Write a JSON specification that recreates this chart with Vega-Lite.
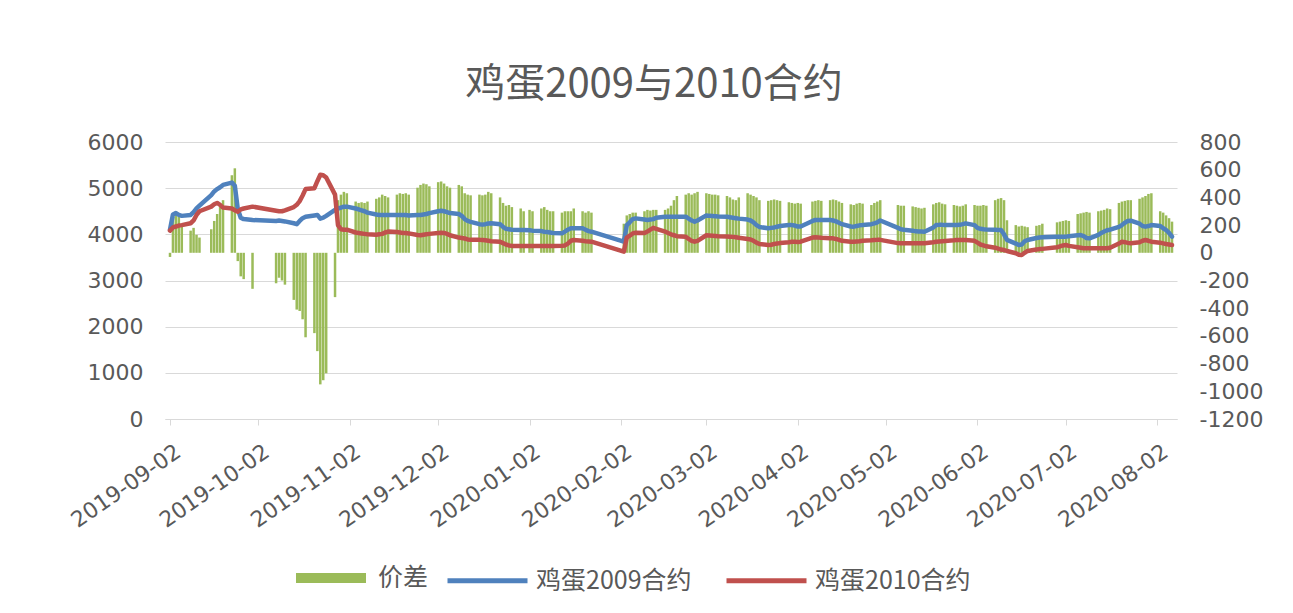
{
  "$schema": "https://vega.github.io/schema/vega-lite/v6.json",
  "width": 1012,
  "height": 277,
  "autosize": {"type": "none"},
  "padding": {"left": 165, "top": 142, "right": 116, "bottom": 194},
  "background": "white",
  "title": {"text": "鸡蛋2009与2010合约", "font": "Noto Sans CJK SC", "fontSize": 40, "fontWeight": "normal", "color": "#595959", "anchor": "middle", "dx": -17, "offset": 26},
  "config": {"view": {"stroke": null}, "font": "DejaVu Sans"},
  "data": {"values": [
{"d":"2019-09-02","s":-30,"a":4100,"b":4080},
{"d":"2019-09-03","s":280,"a":4430,"b":4150},
{"d":"2019-09-04","s":300,"a":4460,"b":4170},
{"d":"2019-09-05","s":260,"a":4420,"b":4190},
{"d":"2019-09-06","s":210,"a":4400,"b":4200},
{"d":"2019-09-09","s":160,"a":4420,"b":4240},
{"d":"2019-09-10","s":180,"a":4480,"b":4300},
{"d":"2019-09-11","s":130,"a":4560,"b":4420},
{"d":"2019-09-12","s":110,"a":4620,"b":4500},
{"d":"2019-09-16","s":170,"a":4850,"b":4600},
{"d":"2019-09-17","s":230,"a":4930,"b":4650},
{"d":"2019-09-18","s":280,"a":4980,"b":4680},
{"d":"2019-09-19","s":330,"a":5020,"b":4640},
{"d":"2019-09-20","s":380,"a":5070,"b":4580},
{"d":"2019-09-23","s":560,"a":5120,"b":4560},
{"d":"2019-09-24","s":610,"a":5050,"b":4520},
{"d":"2019-09-25","s":-60,"a":4550,"b":4490},
{"d":"2019-09-26","s":-170,"a":4360,"b":4540},
{"d":"2019-09-27","s":-190,"a":4330,"b":4560},
{"d":"2019-09-30","s":-260,"a":4310,"b":4600},
{"d":"2019-10-08","s":-220,"a":4290,"b":4510},
{"d":"2019-10-09","s":-180,"a":4300,"b":4500},
{"d":"2019-10-10","s":-200,"a":4290,"b":4500},
{"d":"2019-10-11","s":-230,"a":4280,"b":4520},
{"d":"2019-10-14","s":-340,"a":4240,"b":4590},
{"d":"2019-10-15","s":-410,"a":4220,"b":4640},
{"d":"2019-10-16","s":-420,"a":4290,"b":4720},
{"d":"2019-10-17","s":-480,"a":4350,"b":4840},
{"d":"2019-10-18","s":-610,"a":4380,"b":4980},
{"d":"2019-10-21","s":-580,"a":4410,"b":5000},
{"d":"2019-10-22","s":-710,"a":4420,"b":5150},
{"d":"2019-10-23","s":-950,"a":4340,"b":5290},
{"d":"2019-10-24","s":-920,"a":4360,"b":5280},
{"d":"2019-10-25","s":-870,"a":4400,"b":5230},
{"d":"2019-10-28","s":-320,"a":4530,"b":4860},
{"d":"2019-10-29","s":380,"a":4560,"b":4200},
{"d":"2019-10-30","s":420,"a":4580,"b":4110},
{"d":"2019-10-31","s":440,"a":4600,"b":4100},
{"d":"2019-11-01","s":430,"a":4600,"b":4100},
{"d":"2019-11-04","s":370,"a":4560,"b":4040},
{"d":"2019-11-05","s":360,"a":4540,"b":4030},
{"d":"2019-11-06","s":365,"a":4520,"b":4020},
{"d":"2019-11-07","s":360,"a":4500,"b":4010},
{"d":"2019-11-08","s":370,"a":4470,"b":4000},
{"d":"2019-11-11","s":390,"a":4430,"b":3990},
{"d":"2019-11-12","s":400,"a":4420,"b":4000},
{"d":"2019-11-13","s":420,"a":4420,"b":4010},
{"d":"2019-11-14","s":410,"a":4420,"b":4040},
{"d":"2019-11-15","s":400,"a":4420,"b":4060},
{"d":"2019-11-18","s":420,"a":4420,"b":4050},
{"d":"2019-11-19","s":430,"a":4420,"b":4040},
{"d":"2019-11-20","s":425,"a":4420,"b":4030},
{"d":"2019-11-21","s":430,"a":4420,"b":4030},
{"d":"2019-11-22","s":420,"a":4410,"b":4020},
{"d":"2019-11-25","s":470,"a":4420,"b":3985},
{"d":"2019-11-26","s":490,"a":4420,"b":3980},
{"d":"2019-11-27","s":500,"a":4430,"b":3990},
{"d":"2019-11-28","s":495,"a":4440,"b":4000},
{"d":"2019-11-29","s":480,"a":4460,"b":4010},
{"d":"2019-12-02","s":510,"a":4500,"b":4030},
{"d":"2019-12-03","s":515,"a":4510,"b":4035},
{"d":"2019-12-04","s":500,"a":4500,"b":4030},
{"d":"2019-12-05","s":480,"a":4480,"b":4010},
{"d":"2019-12-06","s":470,"a":4460,"b":3980},
{"d":"2019-12-09","s":490,"a":4440,"b":3930},
{"d":"2019-12-10","s":480,"a":4400,"b":3920},
{"d":"2019-12-11","s":430,"a":4330,"b":3910},
{"d":"2019-12-12","s":420,"a":4290,"b":3890},
{"d":"2019-12-13","s":415,"a":4270,"b":3880},
{"d":"2019-12-16","s":420,"a":4220,"b":3880},
{"d":"2019-12-17","s":415,"a":4210,"b":3875},
{"d":"2019-12-18","s":420,"a":4220,"b":3870},
{"d":"2019-12-19","s":440,"a":4235,"b":3860},
{"d":"2019-12-20","s":430,"a":4240,"b":3850},
{"d":"2019-12-23","s":400,"a":4220,"b":3840},
{"d":"2019-12-24","s":360,"a":4160,"b":3810},
{"d":"2019-12-25","s":340,"a":4120,"b":3780},
{"d":"2019-12-26","s":345,"a":4110,"b":3760},
{"d":"2019-12-27","s":330,"a":4100,"b":3750},
{"d":"2019-12-30","s":320,"a":4095,"b":3750},
{"d":"2019-12-31","s":300,"a":4095,"b":3750},
{"d":"2020-01-02","s":310,"a":4090,"b":3750},
{"d":"2020-01-03","s":300,"a":4080,"b":3748},
{"d":"2020-01-06","s":320,"a":4070,"b":3747},
{"d":"2020-01-07","s":330,"a":4057,"b":3747},
{"d":"2020-01-08","s":310,"a":4050,"b":3745},
{"d":"2020-01-09","s":300,"a":4040,"b":3745},
{"d":"2020-01-10","s":300,"a":4030,"b":3747},
{"d":"2020-01-13","s":290,"a":4022,"b":3750},
{"d":"2020-01-14","s":300,"a":4060,"b":3760},
{"d":"2020-01-15","s":300,"a":4100,"b":3800},
{"d":"2020-01-16","s":300,"a":4130,"b":3860},
{"d":"2020-01-17","s":320,"a":4130,"b":3877},
{"d":"2020-01-20","s":300,"a":4130,"b":3860},
{"d":"2020-01-21","s":290,"a":4100,"b":3850},
{"d":"2020-01-22","s":300,"a":4070,"b":3845},
{"d":"2020-01-23","s":290,"a":4057,"b":3840},
{"d":"2020-02-03","s":210,"a":3840,"b":3624},
{"d":"2020-02-04","s":270,"a":4200,"b":3930},
{"d":"2020-02-05","s":280,"a":4260,"b":3970},
{"d":"2020-02-06","s":290,"a":4330,"b":4020},
{"d":"2020-02-07","s":290,"a":4346,"b":4035},
{"d":"2020-02-10","s":300,"a":4320,"b":4030},
{"d":"2020-02-11","s":310,"a":4310,"b":4060},
{"d":"2020-02-12","s":305,"a":4320,"b":4100},
{"d":"2020-02-13","s":310,"a":4330,"b":4140},
{"d":"2020-02-14","s":310,"a":4360,"b":4120},
{"d":"2020-02-17","s":310,"a":4382,"b":4060},
{"d":"2020-02-18","s":320,"a":4382,"b":4030},
{"d":"2020-02-19","s":340,"a":4382,"b":4000},
{"d":"2020-02-20","s":380,"a":4382,"b":3980},
{"d":"2020-02-21","s":410,"a":4382,"b":3960},
{"d":"2020-02-24","s":420,"a":4382,"b":3949},
{"d":"2020-02-25","s":430,"a":4340,"b":3900},
{"d":"2020-02-26","s":420,"a":4300,"b":3860},
{"d":"2020-02-27","s":430,"a":4274,"b":3840},
{"d":"2020-02-28","s":440,"a":4300,"b":3860},
{"d":"2020-03-02","s":430,"a":4410,"b":3980},
{"d":"2020-03-03","s":425,"a":4400,"b":3975},
{"d":"2020-03-04","s":420,"a":4395,"b":3970},
{"d":"2020-03-05","s":420,"a":4390,"b":3965},
{"d":"2020-03-06","s":415,"a":4385,"b":3960},
{"d":"2020-03-09","s":410,"a":4380,"b":3955},
{"d":"2020-03-10","s":400,"a":4370,"b":3950},
{"d":"2020-03-11","s":385,"a":4360,"b":3945},
{"d":"2020-03-12","s":380,"a":4350,"b":3935},
{"d":"2020-03-13","s":400,"a":4340,"b":3925},
{"d":"2020-03-16","s":430,"a":4320,"b":3900},
{"d":"2020-03-17","s":420,"a":4300,"b":3890},
{"d":"2020-03-18","s":410,"a":4260,"b":3860},
{"d":"2020-03-19","s":400,"a":4200,"b":3820},
{"d":"2020-03-20","s":380,"a":4160,"b":3790},
{"d":"2020-03-23","s":375,"a":4130,"b":3769},
{"d":"2020-03-24","s":380,"a":4140,"b":3775},
{"d":"2020-03-25","s":385,"a":4150,"b":3790},
{"d":"2020-03-26","s":380,"a":4165,"b":3800},
{"d":"2020-03-27","s":375,"a":4180,"b":3810},
{"d":"2020-03-30","s":365,"a":4200,"b":3830},
{"d":"2020-03-31","s":360,"a":4200,"b":3840},
{"d":"2020-04-01","s":355,"a":4190,"b":3840},
{"d":"2020-04-02","s":360,"a":4170,"b":3835},
{"d":"2020-04-03","s":355,"a":4170,"b":3840},
{"d":"2020-04-07","s":370,"a":4290,"b":3930},
{"d":"2020-04-08","s":375,"a":4310,"b":3935},
{"d":"2020-04-09","s":380,"a":4310,"b":3930},
{"d":"2020-04-10","s":375,"a":4310,"b":3925},
{"d":"2020-04-13","s":380,"a":4310,"b":3915},
{"d":"2020-04-14","s":385,"a":4300,"b":3913},
{"d":"2020-04-15","s":380,"a":4280,"b":3900},
{"d":"2020-04-16","s":370,"a":4250,"b":3880},
{"d":"2020-04-17","s":360,"a":4220,"b":3860},
{"d":"2020-04-20","s":350,"a":4170,"b":3840},
{"d":"2020-04-21","s":345,"a":4166,"b":3840},
{"d":"2020-04-22","s":355,"a":4180,"b":3845},
{"d":"2020-04-23","s":360,"a":4195,"b":3850},
{"d":"2020-04-24","s":355,"a":4200,"b":3860},
{"d":"2020-04-27","s":345,"a":4220,"b":3870},
{"d":"2020-04-28","s":360,"a":4238,"b":3877},
{"d":"2020-04-29","s":370,"a":4260,"b":3880},
{"d":"2020-04-30","s":380,"a":4300,"b":3880},
{"d":"2020-05-06","s":345,"a":4140,"b":3810},
{"d":"2020-05-07","s":340,"a":4110,"b":3805},
{"d":"2020-05-08","s":340,"a":4100,"b":3805},
{"d":"2020-05-11","s":335,"a":4080,"b":3805},
{"d":"2020-05-12","s":330,"a":4065,"b":3805},
{"d":"2020-05-13","s":325,"a":4060,"b":3805},
{"d":"2020-05-14","s":320,"a":4060,"b":3805},
{"d":"2020-05-15","s":325,"a":4057,"b":3805},
{"d":"2020-05-18","s":350,"a":4150,"b":3830},
{"d":"2020-05-19","s":360,"a":4200,"b":3840},
{"d":"2020-05-20","s":365,"a":4205,"b":3845},
{"d":"2020-05-21","s":355,"a":4205,"b":3850},
{"d":"2020-05-22","s":350,"a":4200,"b":3855},
{"d":"2020-05-25","s":345,"a":4202,"b":3870},
{"d":"2020-05-26","s":340,"a":4202,"b":3877},
{"d":"2020-05-27","s":335,"a":4205,"b":3877},
{"d":"2020-05-28","s":340,"a":4220,"b":3877},
{"d":"2020-05-29","s":350,"a":4238,"b":3877},
{"d":"2020-06-01","s":345,"a":4200,"b":3860},
{"d":"2020-06-02","s":340,"a":4140,"b":3820},
{"d":"2020-06-03","s":340,"a":4120,"b":3780},
{"d":"2020-06-04","s":345,"a":4110,"b":3760},
{"d":"2020-06-05","s":340,"a":4105,"b":3740},
{"d":"2020-06-08","s":380,"a":4100,"b":3710},
{"d":"2020-06-09","s":390,"a":4095,"b":3690},
{"d":"2020-06-10","s":395,"a":4094,"b":3670},
{"d":"2020-06-11","s":380,"a":4000,"b":3660},
{"d":"2020-06-12","s":235,"a":3880,"b":3640},
{"d":"2020-06-15","s":200,"a":3800,"b":3590},
{"d":"2020-06-16","s":190,"a":3770,"b":3560},
{"d":"2020-06-17","s":195,"a":3780,"b":3552},
{"d":"2020-06-18","s":190,"a":3850,"b":3600},
{"d":"2020-06-19","s":185,"a":3877,"b":3640},
{"d":"2020-06-22","s":195,"a":3920,"b":3670},
{"d":"2020-06-23","s":200,"a":3930,"b":3680},
{"d":"2020-06-24","s":210,"a":3935,"b":3685},
{"d":"2020-06-29","s":220,"a":3945,"b":3720},
{"d":"2020-06-30","s":225,"a":3948,"b":3740},
{"d":"2020-07-01","s":230,"a":3949,"b":3760},
{"d":"2020-07-02","s":235,"a":3950,"b":3769},
{"d":"2020-07-03","s":230,"a":3960,"b":3750},
{"d":"2020-07-06","s":280,"a":3980,"b":3720},
{"d":"2020-07-07","s":285,"a":3985,"b":3710},
{"d":"2020-07-08","s":290,"a":3960,"b":3700},
{"d":"2020-07-09","s":295,"a":3920,"b":3697},
{"d":"2020-07-10","s":290,"a":3913,"b":3697},
{"d":"2020-07-13","s":300,"a":3990,"b":3697},
{"d":"2020-07-14","s":305,"a":4030,"b":3697},
{"d":"2020-07-15","s":310,"a":4060,"b":3697},
{"d":"2020-07-16","s":320,"a":4090,"b":3697},
{"d":"2020-07-17","s":315,"a":4100,"b":3710},
{"d":"2020-07-20","s":360,"a":4160,"b":3800},
{"d":"2020-07-21","s":370,"a":4202,"b":3840},
{"d":"2020-07-22","s":375,"a":4250,"b":3830},
{"d":"2020-07-23","s":380,"a":4290,"b":3815},
{"d":"2020-07-24","s":380,"a":4296,"b":3805},
{"d":"2020-07-27","s":390,"a":4230,"b":3830},
{"d":"2020-07-28","s":400,"a":4180,"b":3860},
{"d":"2020-07-29","s":410,"a":4166,"b":3877},
{"d":"2020-07-30","s":425,"a":4180,"b":3860},
{"d":"2020-07-31","s":430,"a":4202,"b":3840},
{"d":"2020-08-03","s":300,"a":4180,"b":3820},
{"d":"2020-08-04","s":290,"a":4130,"b":3805},
{"d":"2020-08-05","s":270,"a":4094,"b":3790},
{"d":"2020-08-06","s":250,"a":4030,"b":3780},
{"d":"2020-08-07","s":225,"a":3949,"b":3769}
  ]},
  "layer": [
    {
      "mark": {"type": "bar", "width": 2.5},
      "encoding": {
        "x": {"field": "d", "type": "temporal",
          "scale": {"type": "utc", "domain": [{"year": 2019, "month": 9, "date": 2, "utc": true}, {"year": 2020, "month": 8, "date": 7, "utc": true}]},
          "axis": {"title": null, "format": "%Y-%m-%d", "labelAngle": -35, "labelAlign": "right", "labelBaseline": "middle", "labelPadding": 24, "labelOffset": 8, "labelFontSize": 22, "labelColor": "#595959", "domainColor": "#D9D9D9", "tickColor": "#D9D9D9", "tickSize": 6, "grid": false, "labelOverlap": false,
            "values": [
              {"year": 2019, "month": 9, "date": 2, "utc": true},
              {"year": 2019, "month": 10, "date": 2, "utc": true},
              {"year": 2019, "month": 11, "date": 2, "utc": true},
              {"year": 2019, "month": 12, "date": 2, "utc": true},
              {"year": 2020, "month": 1, "date": 2, "utc": true},
              {"year": 2020, "month": 2, "date": 2, "utc": true},
              {"year": 2020, "month": 3, "date": 2, "utc": true},
              {"year": 2020, "month": 4, "date": 2, "utc": true},
              {"year": 2020, "month": 5, "date": 2, "utc": true},
              {"year": 2020, "month": 6, "date": 2, "utc": true},
              {"year": 2020, "month": 7, "date": 2, "utc": true},
              {"year": 2020, "month": 8, "date": 2, "utc": true}
            ]}},
        "y": {"field": "s", "type": "quantitative",
          "scale": {"domain": [-1200, 800], "nice": false, "zero": false},
          "axis": {"orient": "right", "title": null, "grid": false, "domain": false, "ticks": false, "labelFontSize": 22, "labelColor": "#595959", "labelPadding": 22, "labelExpr": "'' + datum.value",
            "values": [-1200, -1000, -800, -600, -400, -200, 0, 200, 400, 600, 800]}},
        "fill": {"datum": "价差", "scale": {"range": ["#9BBB59"]},
          "legend": {"orient": "none", "legendX": 131, "legendY": 401, "title": null, "symbolType": "M-1,-0.14H1V0.14H-1Z", "symbolSize": 4900, "symbolStrokeWidth": 0, "labelFont": "Noto Sans CJK SC", "labelFontSize": 25, "labelColor": "#595959", "labelOffset": 12}}
      }
    },
    {
      "transform": [{"fold": ["a", "b"], "as": ["series", "value"]}],
      "mark": {"type": "line", "strokeWidth": 4.5, "strokeJoin": "round", "strokeCap": "round"},
      "encoding": {
        "x": {"field": "d", "type": "temporal"},
        "y": {"field": "value", "type": "quantitative",
          "scale": {"domain": [0, 6000], "nice": false},
          "axis": {"orient": "left", "title": null, "grid": true, "gridColor": "#D9D9D9", "domain": false, "ticks": false, "labelFontSize": 22, "labelColor": "#595959", "labelPadding": 22, "labelExpr": "'' + datum.value",
            "values": [0, 1000, 2000, 3000, 4000, 5000, 6000]}},
        "stroke": {"field": "series", "type": "nominal",
          "scale": {"domain": ["a", "b"], "range": ["#4F81BD", "#C0504D"]},
          "legend": {"orient": "none", "legendX": 280, "legendY": 396, "direction": "horizontal", "title": null, "symbolType": "stroke", "symbolSize": 6400, "symbolStrokeWidth": 5, "labelFont": "Noto Sans CJK SC", "labelFontSize": 25, "labelColor": "#595959", "labelOffset": 6, "columnPadding": 24,
            "labelExpr": "datum.label == 'a' ? '鸡蛋2009合约' : '鸡蛋2010合约'"}}
      }
    }
  ],
  "resolve": {"scale": {"y": "independent"}}
}
